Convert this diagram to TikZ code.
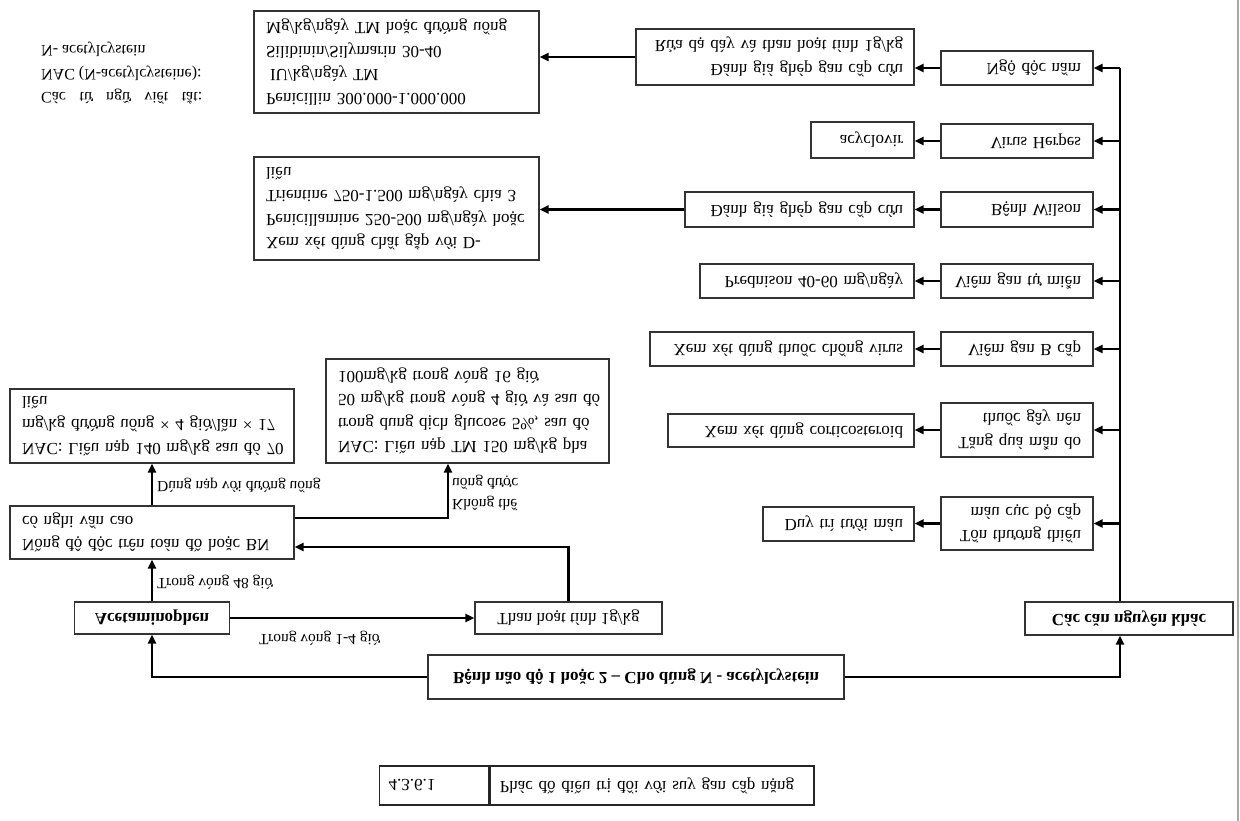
\documentclass[tikz,border=0pt]{standalone}
\usepackage{fontspec}
\setmainfont{Liberation Serif}
\usetikzlibrary{arrows.meta}

% type sizes used in the chart
\newcommand\boxfont{\fontsize{17}{23.5}\selectfont}
\newcommand\tagfont{\fontsize{15.5}{21}\selectfont}
\newcommand\notefont{\fontsize{16}{23.5}\selectfont}
% a line stretched to the full width of its box
\newcommand\jl[1]{\makebox[\linewidth][s]{#1}}

\begin{document}
\begin{tikzpicture}[x=1pt,y=1pt,
  box/.style={draw=black!80, line width=1.3pt, font=\boxfont, text=black, inner ysep=0pt},
  lbox/.style={box, align=left, inner xsep=12pt},
  rbox/.style={box, align=right, inner xsep=11pt},
  rcol/.style={box, align=right, inner xsep=12pt, text width=128pt},
  cbox/.style={box, align=center, inner xsep=0pt},
  bbox/.style={cbox, font=\boxfont\bfseries},
  cell/.style={draw=black!85, line width=1.3pt, font=\boxfont, align=left, inner ysep=0pt, anchor=west},
  tag/.style={font=\tagfont, align=left, inner sep=0pt, anchor=west},
  note/.style={font=\notefont, align=left, inner sep=0pt, anchor=west},
  conn/.style={line width=2.2pt, draw=black, -{Triangle[length=9pt,width=8pt]}},
  trunk/.style={line width=2.2pt, draw=black}
]
\begin{scope}[yscale=-1, transform shape]
\useasboundingbox (0,0) rectangle (1240,821);

% edge of the scanned page
\draw[black!35, line width=1.5pt] (1238,0) -- (1238,821);

% abbreviations
\node[note] (abbr) at (41,73.5)
  {\makebox[161pt][s]{Các từ ngữ viết tắt:}\\NAC (N-acetylcysteine):\\N- acetylcystein};

% root and the two main branches
\node[bbox, minimum width=416pt, minimum height=44pt] (root) at (636,677)
  {Bệnh não độ 1 hoặc 2 – Cho dùng N - acetylcystein};
\node[bbox, minimum width=155pt, minimum height=32pt] (acet) at (152,618) {Acetaminophen};
\node[cbox, minimum width=187pt, minimum height=32pt] (than) at (568.5,618) {Than hoạt tính 1g/kg};
\node[bbox, minimum width=208pt, minimum height=33pt] (other) at (1129,618.5) {Các căn nguyên khác};

% acetaminophen branch
\node[lbox, text width=260pt, minimum height=53pt] (nongdo) at (152,532.5)
  {\jl{Nồng độ độc trên toán đồ hoặc BN}\\có nghi vấn cao};
\node[lbox, text width=260pt, minimum height=74pt] (nac140) at (152,426)
  {\jl{NAC: Liều nạp 140 mg/kg sau đó 70}\\\jl{mg/kg đường uống × 4 giờ/lần × 17}\\liều};
\node[lbox, text width=259pt, minimum height=104pt] (nac150) at (467.5,411)
  {\jl{NAC: Liều nạp TM 150 mg/kg pha}\\\jl{trong dung dịch glucose 5\%, sau đó}\\\jl{50 mg/kg trong vòng 4 giờ và sau đó}\\100mg/kg trong vòng 16 giờ};

% other causes: right column
\node[rcol, minimum height=34pt] (ngo) at (1017,68) {Ngộ độc nấm};
\node[rcol, minimum height=34pt] (virus) at (1017,141) {Virus Herpes};
\node[rcol, minimum height=35pt] (wilson) at (1017,209.5) {Bệnh Wilson};
\node[rcol, minimum height=34pt] (aih) at (1017,281) {Viêm gan tự miễn};
\node[rcol, minimum height=34pt] (hbv) at (1017,349) {Viêm gan B cấp};
\node[rcol, minimum height=54pt] (drug) at (1017,430) {Tăng quá mẫn do\\thuốc gây nên};
\node[rcol, minimum height=53pt] (isch) at (1017,523.5) {Tổn thương thiếu\\máu cục bộ cấp};

% other causes: treatments
\node[rbox, text width=256pt, minimum height=56pt] (rua) at (775,57)
  {Đánh giá ghép gan cấp cứu\\Rửa dạ dày và than hoạt tính 1g/kg};
\node[rbox, text width=81pt, minimum height=36pt] (acyc) at (862.5,140) {acyclovir};
\node[rbox, text width=207pt, minimum height=35pt] (danhgia) at (799.5,209.5) {Đánh giá ghép gan cấp cứu};
\node[rbox, text width=192pt, minimum height=34pt] (pred) at (807,281) {Prednison 40-60 mg/ngày};
\node[rbox, text width=242pt, minimum height=34pt] (antiv) at (782,349) {Xem xét dùng thuốc chống virus};
\node[rbox, text width=224pt, minimum height=33pt] (cortico) at (791,430.5) {Xem xét dùng corticosteroid};
\node[rbox, text width=129pt, minimum height=34pt] (perf) at (838.5,524) {Duy trì tưới máu};

% specific antidotes
\node[lbox, text width=261pt, minimum height=102pt] (peni) at (396.5,62)
  {Penicillin 300.000-1.000.000\\\hspace{4pt}IU/kg/ngày TM\\Silibinin/Silymarin 30-40\\Mg/kg/ngày TM hoặc đường uống};
\node[lbox, text width=261pt, minimum height=103pt] (chel) at (396.5,208.5)
  {\jl{Xem xét dùng chất gắp với D-}\\\jl{Penicillamine 250-500 mg/ngày hoặc}\\\jl{Trientine 750-1.500 mg/ngày chia 3}\\liều};

% connectors of the acetaminophen branch
\draw[conn] (root.west) -| (acet.north);
\draw[conn] (acet.east) -- (than.west);
\draw[conn] (acet.south) -- (nongdo.north);
\draw[conn] (nongdo.south) -- (nac140.north);
\coordinate (tk) at (568.5,547);
\draw[conn] (than.south) |- (tk -| nongdo.east);
\coordinate (kt) at (448,518);
\draw[conn] (kt -| nongdo.east) -- (kt) -- (kt |- nac150.north);

% edge labels
\node[tag] (t1) at (259,638) {Trong vòng 1-4 giờ};
\node[tag] (t2) at (157,582) {Trong vòng 48 giờ};
\node[tag] (t3) at (157,485) {Dùng nạp với đường uống};
\node[tag] (t4) at (452,492.5) {Không thể\\uống được};

% connectors of the other causes
\coordinate (sp) at (1120,0);
\draw[conn] (root.east) -| (sp |- other.north);
\draw[trunk] (sp |- other.south) -- (sp |- ngo.east);
\foreach \n in {ngo,virus,wilson,aih,hbv,drug,isch}
  \draw[conn] (sp |- \n.east) -- (\n.east);
\draw[conn] (ngo.west) -- (ngo.west -| rua.east);
\draw[conn] (virus.west) -- (virus.west -| acyc.east);
\draw[conn] (wilson.west) -- (wilson.west -| danhgia.east);
\draw[conn] (aih.west) -- (aih.west -| pred.east);
\draw[conn] (hbv.west) -- (hbv.west -| antiv.east);
\draw[conn] (drug.west) -- (drug.west -| cortico.east);
\draw[conn] (isch.west) -- (isch.west -| perf.east);
\draw[conn] (rua.west) -- (rua.west -| peni.east);
\draw[conn] (danhgia.west) -- (danhgia.west -| chel.east);

% caption table
\node[cell, text width=91pt, inner xsep=9pt, minimum height=39pt] (num) at (379,785.5) {4.3.6.1};
\node[cell, text width=304pt, inner xsep=10pt, minimum height=39pt] (cap) at (num.east) {Phác đồ điều trị đối với suy gan cấp nặng};
\end{scope}
\end{tikzpicture}
\end{document}
